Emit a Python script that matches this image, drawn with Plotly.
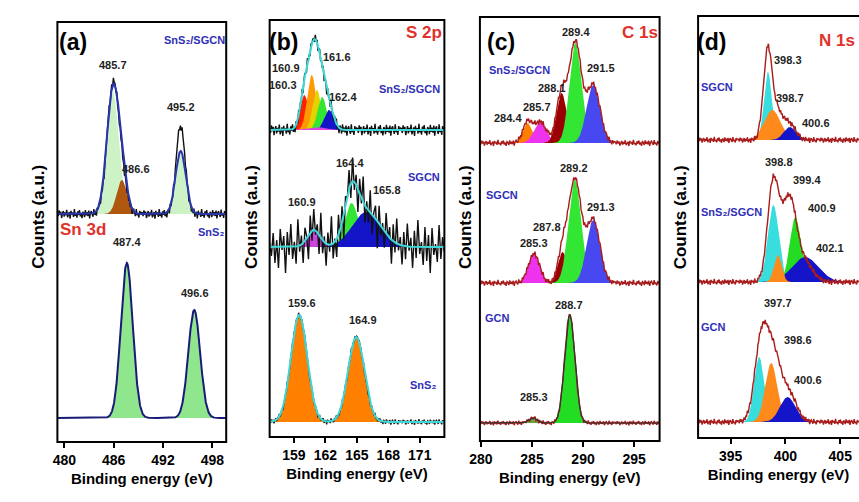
import numpy as np
import plotly.graph_objects as go

W, H = 859, 502
FONT = "Liberation Sans, Arial, sans-serif"

# ===================== DATA =====================
# ---- (a) Sn 3d ----
a_ticks = [480, 486, 492, 498]
a_top_center = [485.9, 487.0, 494.15]          # SnS2/SGCN fitted components
a_top_height = [122, 34, 63]
a_top_sigma = [0.74, 0.62, 0.62]
a_top_raw_center = [485.9, 487.0, 494.15]      # measured curve
a_top_raw_height = [126, 30, 88]
a_top_raw_sigma = [0.70, 0.62, 0.55]
a_bot_center = [487.6, 495.8]                  # SnS2
a_bot_height = [155, 108]
a_bot_sigma = [0.72, 0.72]
a_top_labels = ["485.7", "486.6", "495.2"]
a_bot_labels = ["487.4", "496.6"]

# ---- (b) S 2p ----
b_ticks = [159, 162, 165, 168, 171]
b_top_center = [160.0, 160.7, 161.2, 161.7, 162.35, 161.1]   # SnS2/SGCN
b_top_height = [35, 55, 40, 33, 20, 3]
b_top_sigma = [0.40, 0.42, 0.40, 0.42, 0.45, 0.9]
b_mid_center = [160.9, 164.5, 165.9]                         # SGCN
b_mid_height = [17, 44, 35]
b_mid_sigma = [0.6, 0.65, 1.35]
b_bot_center = [159.5, 164.95]                               # SnS2
b_bot_height = [107, 85]
b_bot_sigma = [0.78, 0.78]
b_top_labels = ["161.6", "160.9", "160.3", "162.4"]
b_mid_labels = ["164.4", "165.8", "160.9"]
b_bot_labels = ["159.6", "164.9"]

# ---- (c) C 1s ----
c_ticks = [280, 285, 290, 295]
c_top_center = [284.55, 285.8, 287.9, 289.25, 291.0]         # SnS2/SGCN
c_top_height = [20, 21, 50, 100, 58]
c_top_sigma = [0.45, 0.6, 0.5, 0.58, 0.65]
c_mid_center = [285.2, 288.0, 289.2, 291.0]                  # SGCN
c_mid_height = [29, 31, 103, 63]
c_mid_sigma = [0.55, 0.45, 0.62, 0.65]
c_bot_center = [285.1, 288.7]                                # GCN
c_bot_height = [5, 108]
c_bot_sigma = [0.4, 0.5]
c_top_labels = ["289.4", "291.5", "288.1", "285.7", "284.4"]
c_mid_labels = ["289.2", "291.3", "287.8", "285.3"]
c_bot_labels = ["288.7", "285.3"]

# ---- (d) N 1s ----
d_ticks = [395, 400, 405]
d_top_center = [398.4, 398.8, 400.4]                         # SGCN fitted components
d_top_height = [68, 30, 13]
d_top_sigma = [0.36, 0.75, 0.55]
d_top_raw_center = [398.35, 399.1, 400.4]                    # measured envelope
d_top_raw_height = [80, 30, 15]
d_top_raw_sigma = [0.38, 0.6, 0.55]
d_mid_center = [398.9, 400.9, 401.8, 399.3]                  # SnS2/SGCN
d_mid_height = [77, 65, 25, 27]
d_mid_sigma = [0.5, 0.5, 1.2, 0.35]
d_mid_raw_center = [398.85, 399.65, 400.45, 401.6]
d_mid_raw_height = [95, 30, 70, 22]
d_mid_raw_sigma = [0.5, 0.5, 0.55, 0.8]
d_bot_center = [397.6, 398.7, 400.2]                         # GCN
d_bot_height = [65, 59, 25]
d_bot_sigma = [0.45, 0.55, 0.7]
d_bot_raw_center = [397.8, 398.9, 400.3]
d_bot_raw_height = [80, 62, 28]
d_bot_raw_sigma = [0.6, 0.65, 0.7]
d_top_labels = ["398.3", "398.7", "400.6"]
d_mid_labels = ["398.8", "399.4", "400.9", "402.1"]
d_bot_labels = ["397.7", "398.6", "400.6"]

# hand-read noise of the measured traces
small_noise = [0.6, -1.1, 1.8, -0.4, 1.2, -2.0, 0.3, 1.5, -1.3, 0.8, -0.6, 2.1, -1.7, 0.2, 1.0,
               -2.3, 1.6, -0.2, 0.7, -1.4, 2.4, -0.9, 0.1, -1.8, 1.3, -0.5, 1.9, -1.2, 0.4, -2.1,
               1.1, 0.5, -1.6, 2.0, -0.7, 0.9, -1.0, 1.7, -2.2, 0.6, 1.4, -0.3, -1.5, 2.2, -0.8,
               0.3, -1.9, 1.5, -0.1, 0.8]
b_mid_noise = [4, -9, 14, -16, 7, -21, 18, -3, 11, -26, 15, -8, 23, -12, 5, -17, 27, -6, 9, -20,
               13, 2, -24, 17, -10, 21, -4, 8, -19, 25, -13, 6, -22, 12, -7, 28, -15, 3, -18, 20,
               -11, 16, -25, 9, -2, 19, -14, 24, -8, 10, -23, 15, -5, 26, -17, 7, -12, 22, -20, 4,
               13, -27, 18, -9, 6, -16, 21, -3, 11, -24, 17, -10, 25, -6, 8, -19, 14, -13, 23, -4,
               9, -21, 16, -11, 27, -7, 5, -18, 20, -14, 12, -26, 19, -8, 3, -15, 22, -12, 10, -5]

# ===================== LAYOUT / STYLE =====================
panels = [
    dict(L=47, R=218, T=22, B=442, x0=479.16, x1=499.69, ticks=a_ticks),
    dict(L=262, R=439, T=20, B=437, x0=156.69, x1=173.35, ticks=b_ticks),
    dict(L=475, R=657, T=17, B=441, x0=279.9, x1=297.5, ticks=c_ticks),
    dict(L=696, R=859, T=16, B=438, x0=392.03, x1=406.71, ticks=d_ticks),
]

CY, OR, GR, BL, MG, DR = '#38dede', '#ff8a1c', '#33e633', '#1414c8', '#ee33ee', '#9a0000'
ENV_RED = '#a81c1c'

spectra = [
    dict(p=0, base=214, c=a_top_center, h=a_top_height, s=a_top_sigma,
         col=['#cdf2c6', '#b0570f', '#cdf2c6'], env='#2a35b0', envw=2,
         raw=(a_top_raw_center, a_top_raw_height, a_top_raw_sigma), rawcol='#111111',
         noise=small_noise, ns=2.0, n=200),
    dict(p=0, base=418, c=a_bot_center, h=a_bot_height, s=a_bot_sigma,
         col=['#8fe68c', '#8fe68c'], env='#1a1a78', envw=2, raw=None),
    dict(p=1, base=130, c=b_top_center, h=b_top_height, s=b_top_sigma,
         col=['#ff2200', '#ff9900', '#e2d400', GR, BL, '#dd44dd'], env='#3fd8d8', envw=2,
         raw='env', rawcol='#111111', noise=small_noise, ns=2.6, n=200),
    dict(p=1, base=247, c=b_mid_center, h=b_mid_height, s=b_mid_sigma,
         col=['#cc44dd', GR, BL], env='#3fd8d8', envw=2,
         raw='env', rawcol='#111111', noise=b_mid_noise, ns=1.0, n=100),
    dict(p=1, base=422, c=b_bot_center, h=b_bot_height, s=b_bot_sigma,
         col=['#ff8000', '#ff8000'], env='#3fd8d8', envw=2,
         raw='env', rawcol='#222222', noise=small_noise, ns=1.2, n=200),
    dict(p=2, base=143, c=c_top_center, h=c_top_height, s=c_top_sigma,
         col=['#ff8000', MG, DR, GR, '#4848f0'], env=None,
         raw='env', rawcol=ENV_RED, noise=small_noise, ns=1.3, n=200),
    dict(p=2, base=283, c=c_mid_center, h=c_mid_height, s=c_mid_sigma,
         col=[MG, DR, GR, '#4848f0'], env=None,
         raw='env', rawcol=ENV_RED, noise=small_noise, ns=1.3, n=200),
    dict(p=2, base=423, c=c_bot_center, h=c_bot_height, s=c_bot_sigma,
         col=['#6aa63a', '#22dd22'], env='#333333', envw=1.2,
         raw='env', rawcol=ENV_RED, noise=small_noise, ns=1.0, n=200),
    dict(p=3, base=140, c=d_top_center, h=d_top_height, s=d_top_sigma,
         col=[CY, OR, BL], env=None,
         raw=(d_top_raw_center, d_top_raw_height, d_top_raw_sigma), rawcol=ENV_RED,
         noise=small_noise, ns=1.3, n=200),
    dict(p=3, base=282, c=d_mid_center, h=d_mid_height, s=d_mid_sigma,
         col=[CY, '#22dd22', BL, OR], env=None,
         raw=(d_mid_raw_center, d_mid_raw_height, d_mid_raw_sigma), rawcol=ENV_RED,
         noise=small_noise, ns=1.3, n=200),
    dict(p=3, base=422, c=d_bot_center, h=d_bot_height, s=d_bot_sigma,
         col=[CY, OR, BL], env=None,
         raw=(d_bot_raw_center, d_bot_raw_height, d_bot_raw_sigma), rawcol=ENV_RED,
         noise=small_noise, ns=1.3, n=200),
]


def gauss(x, c, h, s):
    return h * np.exp(-0.5 * ((x - c) / s) ** 2)


fig = go.Figure()

for sp in spectra:
    p = panels[sp['p']]
    k = sp['p'] + 1
    xa = 'x' if k == 1 else f'x{k}'
    ya = 'y' if k == 1 else f'y{k}'
    off = p['B'] - sp['base']
    xf = np.linspace(p['x0'], p['x1'], 900)
    env = np.zeros_like(xf)
    for c, h, s, col in zip(sp['c'], sp['h'], sp['s'], sp['col']):
        g = gauss(xf, c, h, s)
        env += g
        m = g > 0.05
        xs, ys = xf[m], off + g[m]
        fig.add_trace(go.Scatter(x=np.r_[xs, xs[::-1]], y=np.r_[ys, np.full(len(xs), off)],
                                 fill='toself', fillcolor=col, mode='lines', line=dict(width=0),
                                 xaxis=xa, yaxis=ya, hoverinfo='skip', showlegend=False))
    if sp['raw'] is not None:
        xr = np.linspace(p['x0'], p['x1'], sp['n'])
        if sp['raw'] == 'env':
            rc, rh, rs = sp['c'], sp['h'], sp['s']
        else:
            rc, rh, rs = sp['raw']
        yr = np.zeros_like(xr)
        for c, h, s in zip(rc, rh, rs):
            yr += gauss(xr, c, h, s)
        yr = off + yr + np.resize(np.array(sp['noise'], float), sp['n']) * sp['ns']
        fig.add_trace(go.Scatter(x=xr, y=yr, mode='lines', line=dict(color=sp['rawcol'], width=1.4),
                                 xaxis=xa, yaxis=ya, hoverinfo='skip', showlegend=False))
    if sp['env'] is not None:
        fig.add_trace(go.Scatter(x=xf, y=off + env, mode='lines',
                                 line=dict(color=sp['env'], width=sp['envw']),
                                 xaxis=xa, yaxis=ya, hoverinfo='skip', showlegend=False))

lay = {}
shapes = []
for i, p in enumerate(panels):
    k = i + 1
    xk = 'xaxis' if k == 1 else f'xaxis{k}'
    yk = 'yaxis' if k == 1 else f'yaxis{k}'
    ya = 'y' if k == 1 else f'y{k}'
    xa = 'x' if k == 1 else f'x{k}'
    lay[xk] = dict(domain=[p['L'] / W, min(p['R'] / W, 1.0)], range=[p['x0'], p['x1']], anchor=ya,
                   tickvals=p['ticks'], ticks='outside', ticklen=5, tickwidth=1.5, tickcolor='black',
                   showgrid=False, zeroline=False, showline=False,
                   tickfont=dict(family=FONT, size=14, color='black', weight='bold'),
                   title=dict(text='Binding energy (eV)', standoff=6,
                              font=dict(family=FONT, size=15, color='black', weight='bold')))
    lay[yk] = dict(domain=[1 - p['B'] / H, 1 - p['T'] / H], range=[0, p['B'] - p['T']], anchor=xa,
                   visible=False, showgrid=False, zeroline=False)
    shapes.append(dict(type='rect', xref='paper', yref='paper', x0=p['L'] / W,
                       x1=(p['R'] + (8 if i == 3 else 0)) / W,
                       y0=1 - p['B'] / H, y1=1 - p['T'] / H, line=dict(color='black', width=2)))

annotations = []


def ann(text, x, y, size, color, xanchor='center', angle=0):
    annotations.append(dict(text=text, x=x / W, y=1 - y / H, xref='paper', yref='paper', showarrow=False,
                            xanchor=xanchor, yanchor='middle', textangle=angle,
                            font=dict(family=FONT, size=size, color=color, weight='bold')))


PK, BLUE_T, RED_T = '#1e1e1e', '#2f2fb8', '#e0322a'
SnS2 = 'SnS\u2082'

# panel letters, element labels, y titles
for t, x in zip(['(a)', '(b)', '(c)', '(d)'], [63, 276, 496, 710]):
    ann(t, x, 42, 23, 'black')
for x in [27, 243, 460, 678]:
    ann('Counts (a.u.)', x, 217, 17, 'black', angle=-90)
ann('Sn 3d', 48, 229, 17, RED_T, xanchor='left')
ann('S 2p', 398, 33, 17, RED_T, xanchor='left')
ann('C 1s', 617, 33, 17, RED_T, xanchor='left')
ann('N 1s', 857, 40, 17, RED_T, xanchor='right')

# sample labels
ann(SnS2 + '/SGCN', 186, 40, 11, BLUE_T)
ann(SnS2, 203, 232, 11, BLUE_T)
ann(SnS2 + '/SGCN', 404, 89, 11, BLUE_T)
ann('SGCN', 418, 177, 11, BLUE_T)
ann(SnS2, 417, 385, 11, BLUE_T)
ann(SnS2 + '/SGCN', 515, 70, 11, BLUE_T)
ann('SGCN', 497, 195, 11, BLUE_T)
ann('GCN', 493, 318, 11, BLUE_T)
ann('SGCN', 715, 87, 11, BLUE_T)
ann(SnS2 + '/SGCN', 730, 212, 11, BLUE_T)
ann('GCN', 712, 327, 11, BLUE_T)

# peak value labels
for t, (x, y) in zip(a_top_labels, [(103, 65), (127, 169), (172, 107)]):
    ann(t, x, y, 11, PK)
for t, (x, y) in zip(a_bot_labels, [(118, 242), (186, 293)]):
    ann(t, x, y, 11, PK)
for t, (x, y) in zip(b_top_labels, [(330, 57), (279, 68), (276, 85), (336, 97)]):
    ann(t, x, y, 11, PK)
for t, (x, y) in zip(b_mid_labels, [(343, 163), (381, 190), (295, 202)]):
    ann(t, x, y, 11, PK)
for t, (x, y) in zip(b_bot_labels, [(295, 303), (357, 320)]):
    ann(t, x, y, 11, PK)
for t, (x, y) in zip(c_top_labels, [(572, 32), (598, 68), (548, 88), (533, 107), (503, 118)]):
    ann(t, x, y, 11, PK)
for t, (x, y) in zip(c_mid_labels, [(570, 168), (598, 207), (543, 227), (530, 243)]):
    ann(t, x, y, 11, PK)
for t, (x, y) in zip(c_bot_labels, [(565, 305), (530, 397)]):
    ann(t, x, y, 11, PK)
for t, (x, y) in zip(d_top_labels, [(787, 60), (789, 98), (815, 123)]):
    ann(t, x, y, 11, PK)
for t, (x, y) in zip(d_mid_labels, [(778, 162), (806, 180), (822, 208), (830, 248)]):
    ann(t, x, y, 11, PK)
for t, (x, y) in zip(d_bot_labels, [(777, 303), (797, 340), (807, 380)]):
    ann(t, x, y, 11, PK)

fig.update_layout(width=W, height=H, autosize=False, margin=dict(l=0, r=0, t=0, b=0),
                  paper_bgcolor='white', plot_bgcolor='white', showlegend=False,
                  shapes=shapes, annotations=annotations, **lay)

fig.write_html("out.html")
